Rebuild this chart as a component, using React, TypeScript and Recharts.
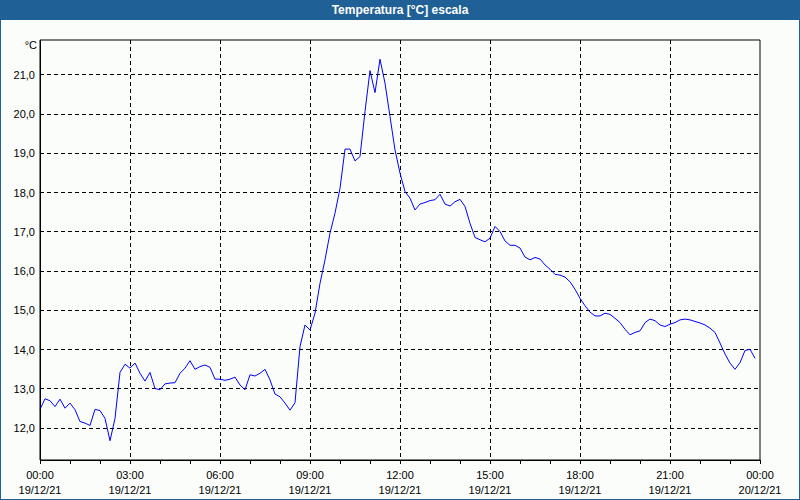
import React from 'react';
import {
  LineChart,
  Line,
  XAxis,
  YAxis,
  CartesianGrid,
  ReferenceArea
} from 'recharts';

// 10-minute readings, 19/12/21 00:00 .. 23:50
const TEMPS = [
  12.48, 12.75, 12.70, 12.55, 12.74, 12.51, 12.64, 12.47, 12.17, 12.13, 12.07, 12.48, 12.45, 12.25, 11.68,
  12.25, 13.42, 13.63, 13.53, 13.66, 13.40, 13.20, 13.42, 13.01, 12.98, 13.13, 13.15, 13.16,
  13.40, 13.53, 13.72, 13.50, 13.57, 13.61, 13.55, 13.25, 13.25, 13.22, 13.25, 13.30, 13.10, 12.98,
  13.36, 13.33, 13.40, 13.50, 13.23, 12.87, 12.80, 12.64, 12.46, 12.65, 14.08,
  14.63, 14.50, 14.93, 15.69, 16.29, 16.97, 17.48, 18.11, 19.11, 19.11, 18.81, 18.92, 20.07, 21.11,
  20.55, 21.40, 20.79, 19.94, 19.09, 18.50, 18.03, 17.86, 17.56, 17.71,
  17.75, 17.80, 17.82, 17.96, 17.71, 17.66, 17.77, 17.83, 17.65, 17.22, 16.86, 16.80, 16.75, 16.84,
  17.14, 17.01, 16.77, 16.66, 16.66, 16.59, 16.36, 16.29, 16.35, 16.31, 16.16, 16.05, 15.92, 15.90,
  15.85, 15.73, 15.54, 15.31, 15.12, 14.96,
  14.86, 14.86, 14.93, 14.90, 14.80, 14.69, 14.52, 14.38, 14.44, 14.48, 14.69, 14.78, 14.74, 14.63,
  14.59, 14.65, 14.69, 14.76, 14.78, 14.76, 14.72, 14.68, 14.63, 14.55, 14.44, 14.17, 13.89, 13.66,
  13.50, 13.67, 13.98, 14.01, 13.78
];
const STEP_MIN = 10;

const HOUR_TICKS = [
  0, 60, 120, 180, 240, 300, 360, 420, 480, 540, 600, 660, 720,
  780, 840, 900, 960, 1020, 1080, 1140, 1200, 1260, 1320, 1380, 1440
];
const GRID_X = [180, 360, 540, 720, 900, 1080, 1260];
const TIME_LABELS = ['00:00', '03:00', '06:00', '09:00', '12:00', '15:00', '18:00', '21:00', '00:00'];
const DATE_LABELS = [
  '19/12/21', '19/12/21', '19/12/21', '19/12/21', '19/12/21',
  '19/12/21', '19/12/21', '19/12/21', '20/12/21'
];
const Y_TICKS = [12, 13, 14, 15, 16, 17, 18, 19, 20, 21];
const Y_MIN = 11.19;
const Y_MAX = 21.89;

const BLUE = '#1f6096';
const BG = '#fafdfa';
const FONT = '"Liberation Sans", Arial, sans-serif';

const data = TEMPS.map((t, i) => ({ min: i * STEP_MIN, temp: t }));

const XTick = ({ x, y, payload }: any) => {
  const idx = payload.value / 180;
  if (!Number.isInteger(idx)) return null;
  return (
    <g>
      <text x={x} y={y + 13} textAnchor="middle" fontSize={11} fill="#000" fontFamily={FONT}>
        {TIME_LABELS[idx]}
      </text>
      <text x={x} y={y + 28} textAnchor="middle" fontSize={11} fill="#000" fontFamily={FONT}>
        {DATE_LABELS[idx]}
      </text>
    </g>
  );
};

const YTick = ({ x, y, payload }: any) => (
  <text x={x} y={y} dy="0.36em" textAnchor="end" fontSize={11} fill="#000" fontFamily={FONT}>
    {payload.value.toFixed(1).replace('.', ',')}
  </text>
);

export default function App() {
  return (
    <div style={{ position: 'absolute', left: 0, top: 0, width: 800, height: 500, background: BG, fontFamily: FONT }}>
      <style>{`.recharts-cartesian-grid line, .recharts-reference-area rect, .recharts-cartesian-axis line { shape-rendering: crispEdges; }`}</style>
      <div
        style={{
          position: 'absolute', left: 0, top: 0, width: 800, height: 20, background: BLUE,
          color: '#fff', fontWeight: 'bold', fontSize: 12, lineHeight: '20px', textAlign: 'center'
        }}
      >
        Temperatura [°C] escala
      </div>
      <div
        style={{
          position: 'absolute', left: 0, top: 40, width: 37, textAlign: 'right',
          fontSize: 11, lineHeight: '11px', color: '#000'
        }}
      >
        °C
      </div>
      <div style={{ position: 'absolute', left: 0, top: 0 }}>
        <LineChart width={800} height={500} data={data} margin={{ top: 40, right: 40, left: 0, bottom: 0 }}>
          <CartesianGrid
            stroke="#000"
            strokeDasharray="4 3"
            verticalValues={GRID_X}
            horizontalValues={Y_TICKS}
          />
          <XAxis
            dataKey="min"
            type="number"
            domain={[0, 1440]}
            ticks={HOUR_TICKS}
            interval={0}
            height={40}
            tickSize={4}
            tickMargin={2}
            stroke="#000"
            tick={<XTick />}
          />
          <YAxis
            type="number"
            domain={[Y_MIN, Y_MAX]}
            ticks={Y_TICKS}
            allowDataOverflow
            width={40}
            tickLine={false}
            tickSize={0}
            tickMargin={5}
            stroke="#000"
            tick={<YTick />}
          />
          <Line
            type="linear"
            dataKey="temp"
            stroke="#0000ff"
            strokeWidth={1}
            dot={false}
            isAnimationActive={false}
          />
          <ReferenceArea x1={0} x2={1440} y1={Y_MIN} y2={Y_MAX} fill="none" stroke="#000" strokeWidth={1} />
        </LineChart>
      </div>
      <div
        style={{
          position: 'absolute', left: 0, top: 0, width: 800, height: 500,
          boxSizing: 'border-box', border: `1px solid ${BLUE}`, pointerEvents: 'none'
        }}
      />
    </div>
  );
}
